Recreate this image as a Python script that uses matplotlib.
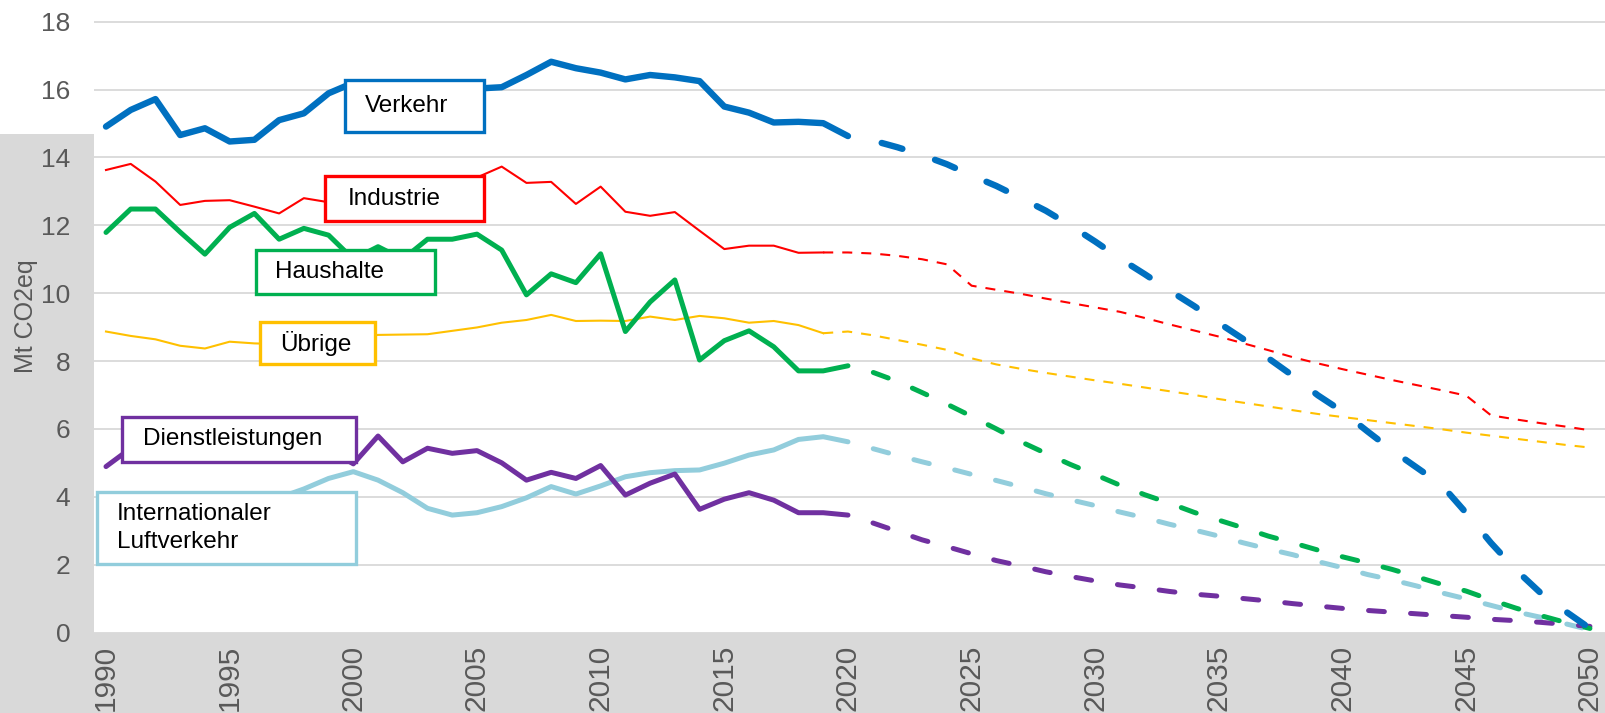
import matplotlib
matplotlib.use("Agg")
import matplotlib.pyplot as plt
from matplotlib.patches import Rectangle

# ---------------- data ----------------
years_hist = list(range(1990, 2021))          # 1990..2020
years_hist_thin = list(range(1990, 2020))     # 1990..2019
years_proj = list(range(2020, 2051))          # 2020..2050
years_proj_thin = list(range(2019, 2051))     # 2019..2050

verkehr_hist = [14.91, 15.40, 15.72, 14.66, 14.86, 14.47, 14.52, 15.10, 15.30, 15.89,
                16.20, 16.10, 16.00, 16.10, 16.10, 16.03, 16.07, 16.43, 16.82, 16.63,
                16.50, 16.30, 16.43, 16.36, 16.25, 15.50, 15.32, 15.03, 15.05, 15.01, 14.63]
verkehr_proj = [14.63, 14.50, 14.30, 14.07, 13.80, 13.47, 13.16, 12.80, 12.43, 11.99,
                11.52, 11.02, 10.56, 10.08, 9.62, 9.12, 8.64, 8.08, 7.56, 6.99,
                6.51, 5.93, 5.37, 4.86, 4.35, 3.52, 2.64, 1.85, 1.17, 0.63, 0.12]

industrie_hist = [13.63, 13.81, 13.29, 12.60, 12.72, 12.74, 12.55, 12.35, 12.80, 12.68,
                  12.90, 13.10, 12.90, 13.10, 13.30, 13.41, 13.73, 13.25, 13.28, 12.63,
                  13.14, 12.40, 12.28, 12.39, 11.84, 11.30, 11.40, 11.40, 11.19, 11.20]
industrie_proj = [11.20, 11.20, 11.17, 11.10, 11.00, 10.85, 10.22, 10.10, 9.98, 9.84,
                  9.71, 9.58, 9.45, 9.27, 9.08, 8.90, 8.72, 8.52, 8.32, 8.11,
                  7.93, 7.76, 7.60, 7.44, 7.29, 7.14, 6.98, 6.40, 6.28, 6.17, 6.07, 5.96]

haushalte_hist = [11.79, 12.48, 12.48, 11.80, 11.15, 11.94, 12.35, 11.59, 11.91, 11.71,
                  11.00, 11.37, 11.00, 11.59, 11.59, 11.74, 11.27, 9.95, 10.57, 10.31,
                  11.16, 8.87, 9.74, 10.39, 8.03, 8.60, 8.89, 8.42, 7.71, 7.71, 7.86]
haushalte_proj = [7.86, 7.67, 7.40, 7.07, 6.73, 6.37, 6.00, 5.62, 5.28, 4.95,
                  4.65, 4.34, 4.06, 3.81, 3.54, 3.31, 3.08, 2.84, 2.64, 2.43,
                  2.23, 2.05, 1.86, 1.64, 1.42, 1.22, 0.96, 0.72, 0.50, 0.30, 0.12]

uebrige_hist = [8.87, 8.74, 8.64, 8.45, 8.37, 8.57, 8.52, 8.50, 8.55, 8.62,
                8.70, 8.77, 8.78, 8.79, 8.89, 8.99, 9.13, 9.21, 9.36, 9.18,
                9.19, 9.18, 9.31, 9.21, 9.33, 9.26, 9.13, 9.18, 9.06, 8.82]
uebrige_proj = [8.82, 8.87, 8.76, 8.62, 8.48, 8.33, 8.08, 7.90, 7.77, 7.65,
                7.54, 7.43, 7.33, 7.22, 7.11, 7.00, 6.88, 6.77, 6.66, 6.55,
                6.44, 6.35, 6.26, 6.17, 6.08, 5.99, 5.89, 5.80, 5.71, 5.62, 5.53, 5.45]

dienst_hist = [4.89, 5.43, 5.50, 5.35, 5.25, 5.30, 5.45, 5.25, 5.30, 5.40,
               4.97, 5.79, 5.03, 5.43, 5.28, 5.36, 5.00, 4.49, 4.72, 4.54,
               4.92, 4.05, 4.40, 4.67, 3.63, 3.93, 4.12, 3.90, 3.53, 3.53, 3.46]
dienst_proj = [3.46, 3.23, 2.98, 2.73, 2.53, 2.32, 2.12, 1.96, 1.79, 1.65,
               1.52, 1.40, 1.31, 1.21, 1.13, 1.07, 1.00, 0.93, 0.85, 0.78,
               0.71, 0.65, 0.60, 0.55, 0.50, 0.45, 0.39, 0.35, 0.30, 0.24, 0.18]

luft_hist = [3.50, 3.45, 3.50, 3.60, 3.70, 3.75, 3.85, 3.97, 4.23, 4.54,
             4.74, 4.49, 4.12, 3.66, 3.46, 3.53, 3.71, 3.97, 4.30, 4.08,
             4.32, 4.59, 4.71, 4.77, 4.79, 4.99, 5.23, 5.38, 5.69, 5.77, 5.62]
luft_proj = [5.62, 5.42, 5.22, 5.03, 4.85, 4.66, 4.48, 4.29, 4.09, 3.91,
             3.74, 3.55, 3.38, 3.19, 3.02, 2.84, 2.64, 2.46, 2.29, 2.09,
             1.91, 1.71, 1.55, 1.37, 1.17, 0.99, 0.80, 0.61, 0.45, 0.26, 0.08]

x_ticks = list(range(1990, 2051, 5))
y_ticks = list(range(0, 19, 2))
y_label = "Mt CO2eq"

# ---------------- style ----------------
plt.rcParams['font.family'] = ['Liberation Sans', 'DejaVu Sans']
plt.rcParams['lines.scale_dashes'] = False

C_VER = '#0070C0'
C_IND = '#FF0000'
C_HH = '#00B050'
C_UEB = '#FFC000'
C_DL = '#7030A0'
C_LUFT = '#92CDDC'
GRAY_BG = '#D9D9D9'
TXT = '#595959'

W, H = 1606, 713
fig = plt.figure(figsize=(W / 100, H / 100), dpi=100, facecolor=GRAY_BG)
# white corner top-left (behind everything)
fig.patches.append(Rectangle((0, (H - 134) / H), 94 / W, 134 / H, transform=fig.transFigure,
                             facecolor='white', edgecolor='none', zorder=-5))

ax_bottom = (H - 632.5) / H
ax = fig.add_axes([94 / W, ax_bottom, 1 - 94 / W, 1 - ax_bottom])
ax.set_zorder(1)
ax.set_facecolor('white')
ax.set_xlim(1989.515, 2050.65)
ax.set_ylim(0, 18.64)

for s in ax.spines.values():
    s.set_visible(False)

ax.set_yticks(y_ticks)
ax.set_xticks(x_ticks)
ax.set_xticklabels([str(t) for t in x_ticks], rotation=90, va='top')
ax.tick_params(axis='y', length=0, pad=17, labelsize=19, labelcolor=TXT)
ax.tick_params(axis='x', length=0, pad=9, labelsize=21.5, labelcolor=TXT)
ax.yaxis.grid(True, color='#D9D9D9', linewidth=1.3, zorder=0)
ax.set_axisbelow(True)
ax.set_ylabel(y_label, fontsize=18, color=TXT)
ax.yaxis.set_label_coords(-56 / 1512, 0.5)

lw_ver = 4.6
lw_mid = 3.6
lw_thin = 1.5

ls_thick = (11.4, (11.4, 18.9))
ls_ver = (15.5, (15.5, 24.8))
ls_thin = (0, (7.2, 6.5))

ax.plot(years_hist, luft_hist, color=C_LUFT, lw=lw_mid, solid_capstyle='round', solid_joinstyle='round', zorder=3)
ax.plot(years_proj, luft_proj, color=C_LUFT, lw=lw_mid, linestyle=ls_thick,
        dash_capstyle='round', dash_joinstyle='round', zorder=3)

ax.plot(years_hist, dienst_hist, color=C_DL, lw=lw_mid, solid_capstyle='round', solid_joinstyle='round', zorder=3)
ax.plot(years_proj, dienst_proj, color=C_DL, lw=lw_mid, linestyle=ls_thick,
        dash_capstyle='round', dash_joinstyle='round', zorder=3)

ax.plot(years_hist_thin, uebrige_hist, color=C_UEB, lw=lw_thin, solid_joinstyle='round', zorder=3)
ax.plot(years_proj_thin, uebrige_proj, color=C_UEB, lw=lw_thin, linestyle=ls_thin,
        dash_capstyle='butt', zorder=3)

ax.plot(years_hist, haushalte_hist, color=C_HH, lw=lw_mid, solid_capstyle='round', solid_joinstyle='round', zorder=3)
ax.plot(years_proj, haushalte_proj, color=C_HH, lw=lw_mid, linestyle=ls_thick,
        dash_capstyle='round', dash_joinstyle='round', zorder=3)

ax.plot(years_hist_thin, industrie_hist, color=C_IND, lw=lw_thin, solid_joinstyle='round', zorder=3)
ax.plot(years_proj_thin, industrie_proj, color=C_IND, lw=lw_thin, linestyle=ls_thin,
        dash_capstyle='butt', zorder=3)

ax.plot(years_hist, verkehr_hist, color=C_VER, lw=lw_ver, solid_capstyle='round', solid_joinstyle='round', zorder=4)
ax.plot(years_proj, verkehr_proj, color=C_VER, lw=lw_ver, linestyle=ls_ver,
        dash_capstyle='round', dash_joinstyle='round', zorder=4)

# ---------------- label boxes ----------------
labels = [
    ("Verkehr", C_VER, (1999.66, 2005.28, 14.75, 16.28), 2000.45, 15.52),
    ("Industrie", C_IND, (1998.86, 2005.28, 12.13, 13.45), 1999.76, 12.79),
    ("Haushalte", C_HH, (1996.07, 2003.30, 9.98, 11.27), 1996.82, 10.63),
    ("Übrige", C_UEB, (1996.21, 2000.86, 7.91, 9.16), 1997.06, 8.53),
    ("Dienstleistungen", C_DL, (1990.66, 2000.09, 5.03, 6.34), 1991.51, 5.69),
    ("Internationaler\nLuftverkehr", C_LUFT, (1989.64, 2000.11, 2.02, 4.14), 1990.45, 3.08),
]
for text, col, (x0, x1, y0, y1), tx, ty in labels:
    ax.add_patch(Rectangle((x0, y0), x1 - x0, y1 - y0, facecolor='white', edgecolor=col,
                           linewidth=2.4, zorder=10))
    ax.text(tx, ty, text, fontsize=17.5, color='black', ha='left', va='center',
            linespacing=1.3, zorder=11)

fig.savefig('out.png', dpi=100, facecolor=fig.get_facecolor())
